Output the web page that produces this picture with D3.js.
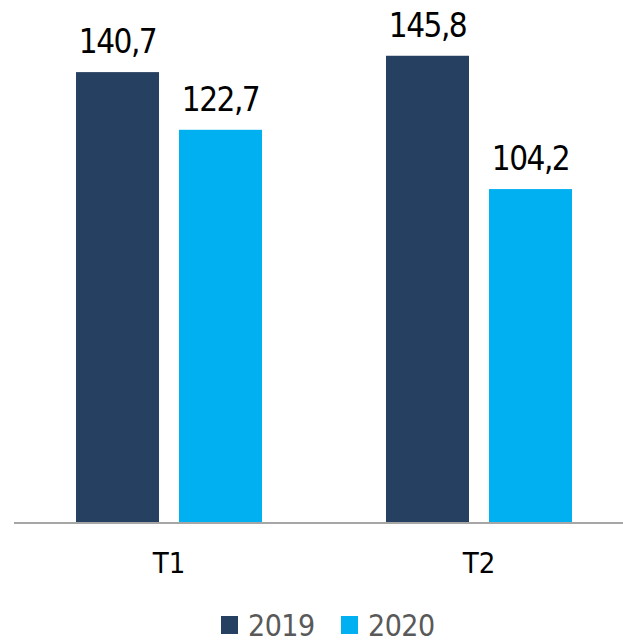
<!DOCTYPE html>
<html>
<head>
<meta charset="utf-8">
<script src="https://cdn.jsdelivr.net/npm/d3@7"></script>
<style>
  html, body { margin: 0; padding: 0; background: #ffffff; }
  text { font-family: "DejaVu Sans Condensed", "DejaVu Sans", sans-serif; }
</style>
</head>
<body>
<div id="chart"></div>
<script>
// Data
const categories = ["T1", "T2"];
const years = ["2019", "2020"];
const values2019 = [140.7, 145.8];
const values2020 = [122.7, 104.2];

const WIDTH = 623;
const HEIGHT = 642;
const BASELINE = 523;
const COLORS = { "2019": "#264061", "2020": "#00B0F0" };

const fmt = v => d3.format(".1f")(v).replace(".", ",");

const rows = categories.map((c, i) => ({
    cat: c,
    vals: [
        { year: "2019", value: values2019[i] },
        { year: "2020", value: values2020[i] }
    ]
}));

const svg = d3.select("#chart")
    .append("svg")
    .attr("width", WIDTH)
    .attr("height", HEIGHT);

const x = d3.scaleBand()
    .domain(categories)
    .range([12, 636])
    .paddingInner(0.4)
    .paddingOuter(0.2065);

const xInner = d3.scaleBand()
    .domain(years)
    .range([0, x.bandwidth()])
    .paddingInner(0.194)
    .paddingOuter(0);

const y = d3.scaleLinear()
    .domain([0, 163.2])
    .range([BASELINE, 0]);

// Bars
const groups = svg.selectAll(".group")
    .data(rows)
    .enter()
    .append("g")
    .attr("class", "group")
    .attr("transform", d => `translate(${x(d.cat)},0)`);

groups.selectAll("rect")
    .data(d => d.vals)
    .enter()
    .append("rect")
    .attr("x", d => xInner(d.year))
    .attr("y", d => y(d.value))
    .attr("width", xInner.bandwidth())
    .attr("height", d => y(0) - y(d.value))
    .attr("fill", d => COLORS[d.year]);

// Value labels
groups.selectAll(".val")
    .data(d => d.vals)
    .enter()
    .append("text")
    .attr("class", "val")
    .attr("x", d => xInner(d.year) + xInner.bandwidth() / 2)
    .attr("y", d => y(d.value) - 19)
    .attr("text-anchor", "middle")
    .attr("font-size", 33)
    .attr("letter-spacing", "-1.5px")
    .attr("fill", "#000")
    .text(d => fmt(d.value));

// Baseline
svg.append("line")
    .attr("x1", 14)
    .attr("x2", WIDTH)
    .attr("y1", y(0))
    .attr("y2", y(0))
    .attr("stroke", "#a6a6a6")
    .attr("stroke-width", 2);

// Category labels
svg.selectAll(".cat")
    .data(categories)
    .enter()
    .append("text")
    .attr("class", "cat")
    .attr("x", d => x(d) + x.bandwidth() / 2)
    .attr("y", 573)
    .attr("text-anchor", "middle")
    .attr("font-size", 29)
    .attr("fill", "#000")
    .text(d => d);

// Legend
const legendX = [221, 341];
const legend = svg.selectAll(".legend")
    .data(years)
    .enter()
    .append("g")
    .attr("class", "legend")
    .attr("transform", (d, i) => `translate(${legendX[i]},616)`);

legend.append("rect")
    .attr("width", 17)
    .attr("height", 18)
    .attr("fill", d => COLORS[d]);

legend.append("text")
    .attr("x", 27)
    .attr("y", 20)
    .attr("font-size", 30)
    .attr("letter-spacing", "-0.5px")
    .attr("fill", "#595959")
    .text(d => d);
</script>
</body>
</html>
